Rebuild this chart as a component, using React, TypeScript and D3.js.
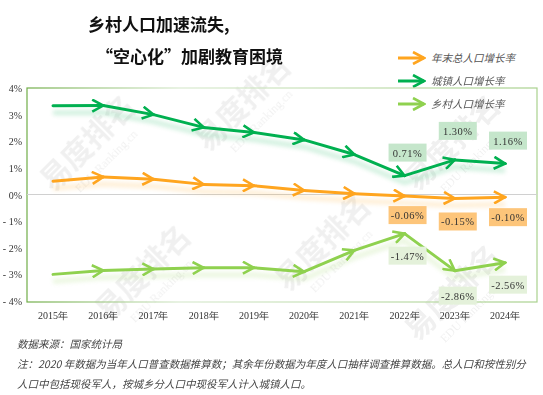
import React from 'react';
import * as d3 from 'd3';

const years = ['2015年', '2016年', '2017年', '2018年', '2019年', '2020年', '2021年', '2022年', '2023年', '2024年'];
const totalRate = [0.50, 0.66, 0.57, 0.38, 0.33, 0.15, 0.03, -0.06, -0.15, -0.10];
const urbanRate = [3.33, 3.34, 3.00, 2.52, 2.33, 2.05, 1.50, 0.71, 1.30, 1.16];
const ruralRate = [-3.00, -2.85, -2.80, -2.75, -2.75, -2.90, -2.10, -1.47, -2.86, -2.56];
const yTicks = [4, 3, 2, 1, 0, -1, -2, -3, -4];
const legendNames = ['年末总人口增长率', '城镇人口增长率', '乡村人口增长率'];

const width = 543;
const height = 395;
const margin = { top: 88, right: 6, bottom: 93, left: 27 };

const series = [
  { key: 'total', values: totalRate, color: '#FFA51F', box: '#FDC57A' },
  { key: 'urban', values: urbanRate, color: '#00B050', box: '#C5E6CB' },
  { key: 'rural', values: ruralRate, color: '#8FD14F', box: '#E4F1DA' },
];
// vertical offset of the value boxes from their points (2022-2024)
const labelOffsets: { [k: string]: number[] } = {
  total: [19, 23, 20],
  urban: [-23, -29, -23],
  rural: [22, 25, 22],
};

const App: React.FC = () => {
  const x = d3.scalePoint<string>()
    .domain(years)
    .range([53, 505]);
  const y = d3.scaleLinear()
    .domain([-4, 4])
    .range([height - margin.bottom - 1, margin.top]);

  const serif = 'Liberation Serif, Times New Roman, serif';
  const cjk = 'Noto Sans CJK SC, sans-serif';

  const watermarks = [
    [95, 150], [250, 110], [330, 250], [150, 280], [460, 150], [460, 300],
  ];

  return (
    <svg width={width} height={height} style={{ position: 'absolute', left: 0, top: 0 }}>
      <defs>
        {series.map(s => (
          <marker key={s.key} id={`arrow-${s.key}`} viewBox="0 0 14 14" refX="12" refY="7"
            markerWidth="14" markerHeight="14" markerUnits="userSpaceOnUse" orient="auto">
            <path d="M1,1 L12,7 L1,13" fill="none" stroke={s.color} strokeWidth="2.6" strokeLinejoin="miter" />
          </marker>
        ))}
        <filter id="blur" x="-10%" y="-50%" width="120%" height="200%">
          <feGaussianBlur stdDeviation="2" />
        </filter>
        <linearGradient id="frameGrad" x1="0" y1="0" x2="1" y2="0">
          <stop offset="0" stopColor="#70AD47" />
          <stop offset="0.3" stopColor="#D9EAD0" />
          <stop offset="1" stopColor="#A9D18E" />
        </linearGradient>
      </defs>
      <rect width={width} height={height} fill="#fff" />

      {/* watermark */}
      <g fill="#000" opacity={0.06}>
        {watermarks.map(([wx, wy], i) => (
          <g key={i} transform={`translate(${wx},${wy}) rotate(-45)`}>
            <text fontFamily={cjk} fontWeight={700} fontSize={30} textAnchor="middle">易度排名</text>
            <text y={20} fontFamily={serif} fontSize={12} textAnchor="middle">EDU Ranking.cn</text>
          </g>
        ))}
      </g>

      {/* title */}
      <text x={88} y={31} fontFamily={cjk} fontWeight={700} fontSize={17} fill="#111">乡村人口加速流失,</text>
      <text x={96} y={63} fontFamily={cjk} fontWeight={700} fontSize={17} fill="#111">“空心化”加剧教育困境</text>

      {/* legend */}
      {series.map((s, i) => (
        <g key={s.key} transform={`translate(398,${58 + i * 23})`}>
          <line x1={0} y1={0} x2={26} y2={0} stroke={s.color} strokeWidth={3} markerEnd={`url(#arrow-${s.key})`} />
          <text x={33} y={4} fontFamily={cjk} fontStyle="italic" fontSize={10.5} fill="#555">{legendNames[i]}</text>
        </g>
      ))}

      {/* frame */}
      <rect x={margin.left} y={margin.top} width={width - margin.left - margin.right}
        height={height - margin.top - margin.bottom} fill="none" stroke="url(#frameGrad)" strokeWidth={1.2} />
      <line x1={margin.left} x2={width - margin.right} y1={y(0)} y2={y(0)} stroke="#D0D0D0" strokeWidth={1} />

      {/* y ticks */}
      {yTicks.map(t => (
        <text key={t} x={22} y={y(t) + 4} textAnchor="end" fontFamily={serif} fontSize={10} fill="#333">
          {t < 0 ? `- ${-t}%` : `${t}%`}
        </text>
      ))}
      {/* x ticks */}
      {years.map(yr => (
        <text key={yr} x={x(yr)} y={319} textAnchor="middle" fontFamily={serif} fontSize={10} fill="#333">{yr}</text>
      ))}

      {/* shadows */}
      {series.map(s => {
        const line = d3.line<number>().x((_, i) => x(years[i]) as number).y(d => y(d) + 7);
        return (
          <path key={s.key} d={line(s.values) || ''} fill="none" stroke={s.color} strokeWidth={5}
            opacity={0.18} filter="url(#blur)" />
        );
      })}

      {/* lines with arrows */}
      {series.map(s => (
        <g key={s.key}>
          {s.values.slice(1).map((v, i) => (
            <line key={i}
              x1={x(years[i])} y1={y(s.values[i])}
              x2={x(years[i + 1])} y2={y(v)}
              stroke={s.color} strokeWidth={3} strokeLinecap="round"
              markerEnd={`url(#arrow-${s.key})`} />
          ))}
        </g>
      ))}

      {/* value labels for last three years */}
      {series.map(s => (
        <g key={s.key}>
          {s.values.slice(7).map((v, j) => {
            const i = j + 7;
            const cx = (x(years[i]) as number) + 3;
            const cy = y(v) + labelOffsets[s.key][j];
            const label = `${v.toFixed(2)}%`;
            return (
              <g key={i}>
                <rect x={cx - 19} y={cy - 9} width={38} height={18} fill={s.box} />
                <text x={cx} y={cy + 4} textAnchor="middle" fontFamily={serif} fontSize={10.5} fill="#333"
                  letterSpacing={0.5}>{label}</text>
              </g>
            );
          })}
        </g>
      ))}

      {/* footnotes */}
      <g fontFamily={cjk} fontStyle="italic" fontSize={10.5} fill="#444">
        <text x={17} y={348}>数据来源：国家统计局</text>
        <text x={17} y={368}>注：2020 年数据为当年人口普查数据推算数；其余年份数据为年度人口抽样调查推算数据。总人口和按性别分</text>
        <text x={17} y={388}>人口中包括现役军人，按城乡分人口中现役军人计入城镇人口。</text>
      </g>
    </svg>
  );
};

export default App;
